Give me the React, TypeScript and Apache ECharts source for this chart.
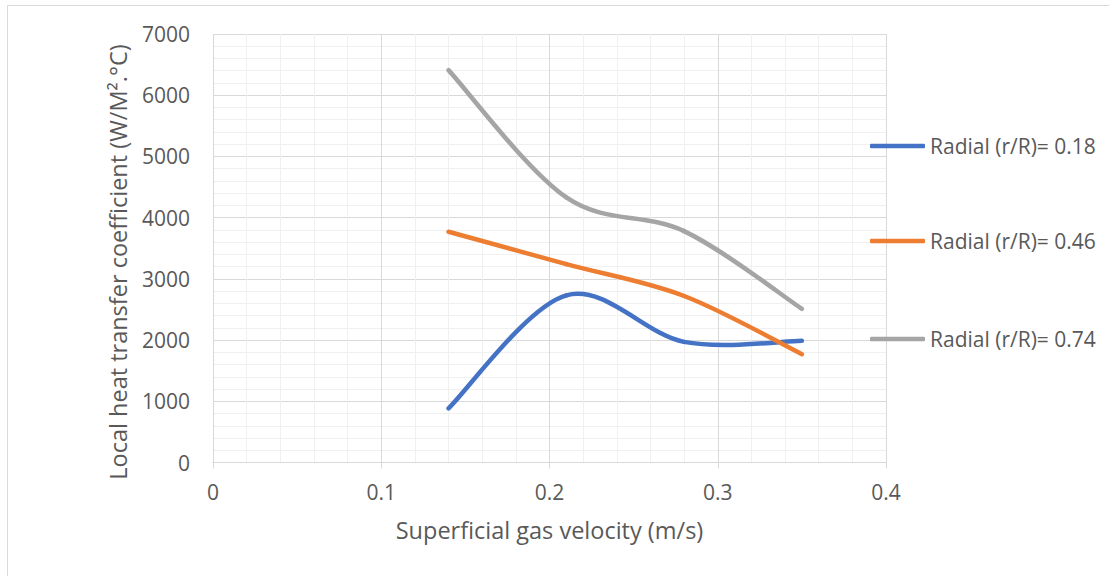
import React, { useEffect, useRef } from "react";
import * as echarts from "echarts";

const xValues = [0.14, 0.21, 0.28, 0.35];
const seriesNames = ["Radial (r/R)= 0.18", "Radial (r/R)= 0.46", "Radial (r/R)= 0.74"];
const radial018 = [885, 2730, 1970, 1990];
const radial046 = [3770, 3240, 2720, 1770];
const radial074 = [6410, 4330, 3780, 2510];
const seriesColors = ["#4472C4", "#ED7D31", "#A5A5A5"];
const xTitle = "Superficial gas velocity (m/s)";
const yTitle = "Local heat transfer coefficient (W/M².°C)";

const FONT = "'Open Sans', 'Noto Sans', sans-serif";
const TXT = "#595959";
const TICK_FS = 21;
const TITLE_FS = 23.5;

function smoothSeries(name: string, values: number[], color: string) {
  const n = values.length;
  const clampIdx = (k: number) => Math.max(0, Math.min(n - 1, k));
  return {
    name,
    type: "custom",
    itemStyle: { color },
    encode: { x: 0, y: 1 },
    data: xValues.map((x, j) => [x, values[j]]),
    renderItem: (params: any, api: any) => {
      const i = params.dataIndex;
      if (i >= n - 1) return null;
      const p = (k: number) => api.coord([xValues[clampIdx(k)], values[clampIdx(k)]]);
      const p0 = p(i - 1);
      const p1 = p(i);
      const p2 = p(i + 1);
      const p3 = p(i + 2);
      return {
        type: "bezierCurve",
        shape: {
          x1: p1[0],
          y1: p1[1],
          x2: p2[0],
          y2: p2[1],
          cpx1: p1[0] + (p2[0] - p0[0]) / 6,
          cpy1: p1[1] + (p2[1] - p0[1]) / 6,
          cpx2: p2[0] - (p3[0] - p1[0]) / 6,
          cpy2: p2[1] - (p3[1] - p1[1]) / 6,
        },
        style: { stroke: color, lineWidth: 4.5, fill: "none", lineCap: "round" },
      };
    },
  };
}

export default function App() {
  const ref = useRef<HTMLDivElement>(null);
  useEffect(() => {
    if (!ref.current) return;
    const chart = echarts.init(ref.current, null, { renderer: "svg" });
    const all = [radial018, radial046, radial074];
    const legendCenters = [146, 241, 339];
    chart.setOption({
      animation: false,
      backgroundColor: "#ffffff",
      textStyle: { fontFamily: FONT },
      grid: { left: 213, right: 223, top: 34, bottom: 113.5, containLabel: false },
      xAxis: {
        type: "value",
        min: 0,
        max: 0.4,
        interval: 0.1,
        name: xTitle,
        nameLocation: "middle",
        nameGap: 55,
        nameTextStyle: { color: TXT, fontSize: TITLE_FS, fontFamily: FONT },
        axisLine: { show: true, lineStyle: { color: "#d9d9d9", width: 1 } },
        axisTick: { show: true, length: 6, lineStyle: { color: "#d9d9d9" } },
        axisLabel: { color: TXT, fontSize: TICK_FS, margin: 19, fontFamily: FONT },
        splitLine: { show: true, lineStyle: { color: "#d9d9d9", width: 1 } },
        minorTick: { show: false, splitNumber: 5 },
        minorSplitLine: { show: true, lineStyle: { color: "#f0f0f0", width: 1 } },
      },
      yAxis: {
        type: "value",
        min: 0,
        max: 7000,
        interval: 1000,
        axisLine: { show: false },
        axisTick: { show: false },
        axisLabel: {
          color: TXT,
          fontSize: TICK_FS,
          margin: 23,
          fontFamily: FONT,
          formatter: (v: number) => String(v),
        },
        splitLine: { show: true, lineStyle: { color: "#d9d9d9", width: 1 } },
        minorTick: { show: false, splitNumber: 5 },
        minorSplitLine: { show: true, lineStyle: { color: "#f0f0f0", width: 1 } },
      },
      legend: seriesNames.map((n, i) => ({
        data: [n],
        orient: "vertical",
        left: 870,
        top: legendCenters[i] - 10.5,
        padding: 0,
        icon: "roundRect",
        itemWidth: 55,
        itemHeight: 4.5,
        itemGap: 0,
        selectedMode: false,
        textStyle: { color: TXT, fontSize: TICK_FS, fontFamily: FONT },
      })),
      series: seriesNames.map((n, i) => smoothSeries(n, all[i], seriesColors[i])),
      graphic: [
        {
          type: "text",
          x: 118,
          y: 262,
          rotation: Math.PI / 2,
          style: {
            text: yTitle,
            fill: TXT,
            fontSize: TITLE_FS,
            fontFamily: FONT,
            align: "center",
            verticalAlign: "middle",
          },
        },
        {
          type: "line",
          shape: { x1: 7.5, y1: 5.5, x2: 1109, y2: 5.5 },
          style: { stroke: "#d9d9d9", lineWidth: 1 },
        },
        {
          type: "line",
          shape: { x1: 7.5, y1: 5.5, x2: 7.5, y2: 576 },
          style: { stroke: "#d9d9d9", lineWidth: 1 },
        },
      ],
    });
    return () => chart.dispose();
  }, []);
  return (
    <div
      ref={ref}
      style={{ position: "absolute", left: 0, top: 0, width: 1109, height: 576 }}
    />
  );
}
